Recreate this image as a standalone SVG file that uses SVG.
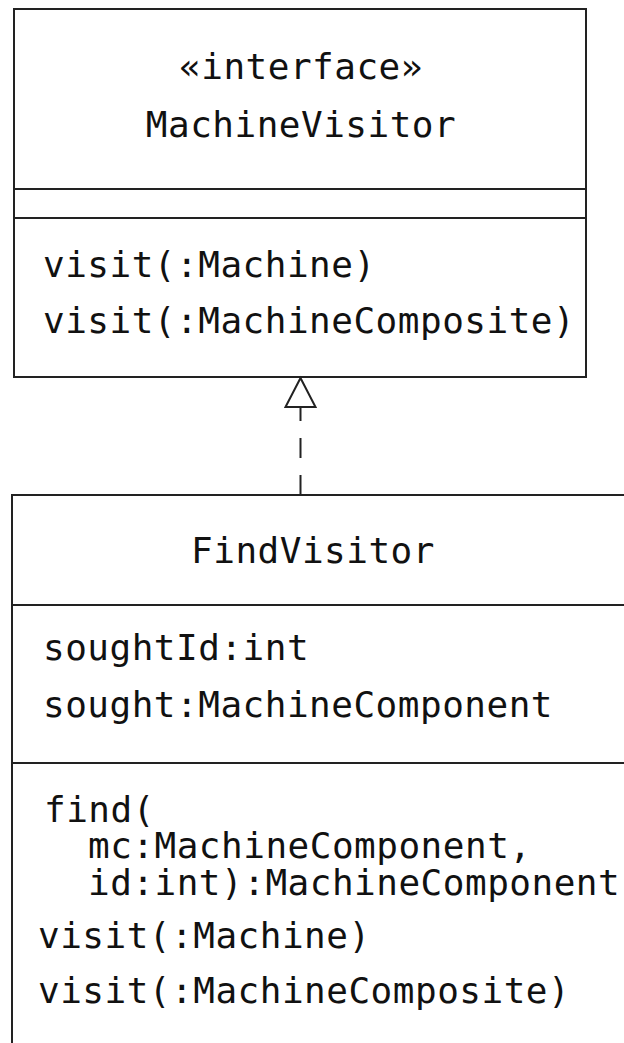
<svg xmlns="http://www.w3.org/2000/svg" width="624" height="1043" viewBox="0 0 624 1043">
<style>
.box{fill:#fff;stroke:#222;stroke-width:2}
.ln{stroke:#222;stroke-width:2;fill:none}
.t{font-family:"DejaVu Sans Mono","Liberation Mono",monospace;font-size:36px;letter-spacing:0.5px;fill:#111}
.c{text-anchor:middle}
</style>
<rect width="624" height="1043" fill="#fff"/>
<g id="MachineVisitor">
<rect class="box" x="14" y="9" width="572" height="368"/>
<line class="ln" x1="14" y1="189" x2="586" y2="189"/>
<line class="ln" x1="14" y1="218" x2="586" y2="218"/>
<text class="t c" x="301" y="79">«interface»</text>
<text class="t c" x="301" y="137">MachineVisitor</text>
<text class="t" x="43" y="277">visit(:Machine)</text>
<text class="t" x="43" y="333">visit(:MachineComposite)</text>
</g>
<g id="FindVisitor">
<path class="box" d="M640 495 H12 V1060 H640 Z"/>
<line class="ln" x1="12" y1="605" x2="640" y2="605"/>
<line class="ln" x1="12" y1="763" x2="640" y2="763"/>
<text class="t c" x="313" y="563">FindVisitor</text>
<text class="t" x="43" y="660">soughtId:int</text>
<text class="t" x="43" y="717">sought:MachineComponent</text>
<text class="t" x="44" y="822">find(</text>
<text class="t" x="88" y="858">mc:MachineComponent,</text>
<text class="t" x="88" y="895">id:int):MachineComponent</text>
<text class="t" x="38" y="948">visit(:Machine)</text>
<text class="t" x="38" y="1003">visit(:MachineComposite)</text>
</g>
<g id="connectors">
<line class="ln" x1="300.5" y1="495" x2="300.5" y2="407" stroke-dasharray="20 17 20 17 14"/>
<polygon points="300.5,378 285.5,407 315.5,407" fill="#fff" stroke="#222" stroke-width="2"/>
</g>
</svg>
